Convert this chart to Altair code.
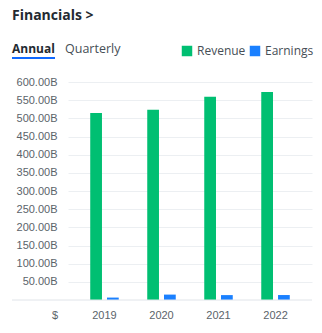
import altair as alt
import pandas as pd

years = ["2019", "2020", "2021", "2022"]
revenue = [514.41, 523.96, 559.15, 572.75]
earnings = [6.67, 14.88, 13.51, 13.67]
series = ["Revenue", "Earnings"]
colors = ["#00bf72", "#1a80ff"]
y_ticks = [50, 100, 150, 200, 250, 300, 350, 400, 450, 500, 550, 600]
title_text = ["Financials >"]
tab_active = ["Annual"]
tab_other = ["Quarterly"]
currency = ["$"]

rows = []
for i, yr in enumerate(years):
    rows.append({"year": yr, "series": "Revenue", "value": revenue[i]})
    rows.append({"year": yr, "series": "Earnings", "value": earnings[i]})
df = pd.DataFrame(rows)

W, H = 244, 218
LEFT, TOP = 68, 82
AXIS_FONT = "Liberation Sans"
AXIS_COLOR = "#5b636a"

bars = alt.Chart(df).mark_bar().encode(
    x=alt.X("year:N", sort=years,
            scale=alt.Scale(paddingInner=0.5, paddingOuter=0.39),
            axis=alt.Axis(title=None, labelAngle=0, ticks=False, domain=False,
                          grid=False, labelPadding=9, labelFont=AXIS_FONT,
                          labelFontSize=11, labelColor=AXIS_COLOR)),
    xOffset=alt.XOffset("series:N", sort=series,
                        scale=alt.Scale(paddingInner=0.3, paddingOuter=0)),
    y=alt.Y("value:Q", scale=alt.Scale(domain=[0, 600], nice=False),
            axis=alt.Axis(title=None, values=y_ticks,
                          labelExpr="format(datum.value, '.2f') + 'B'",
                          ticks=False, domain=False, labelPadding=11,
                          labelFont=AXIS_FONT, labelFontSize=11,
                          labelColor=AXIS_COLOR, gridColor="#eceff2",
                          gridWidth=1)),
    color=alt.Color("series:N",
                    scale=alt.Scale(domain=series, range=colors),
                    legend=alt.Legend(title=None, orient="none",
                                      legendX=181 - LEFT, legendY=45 - TOP,
                                      direction="horizontal",
                                      symbolType="square", symbolSize=110,
                                      symbolStrokeWidth=0, labelFont="Open Sans",
                                      labelFontSize=12, labelColor="#464e56",
                                      labelOffset=4, columnPadding=3,
                                      padding=0)),
)

baseline = alt.Chart(pd.DataFrame({"k": [0]})).mark_rule(
    color="#e0e4e9", strokeWidth=1
).encode(x=alt.value(12 - LEFT), x2=alt.value(W), y=alt.value(H))

title = alt.Chart(pd.DataFrame({"t": title_text})).mark_text(
    align="left", baseline="alphabetic", font="Open Sans", fontSize=14,
    fontWeight="bold", color="#232a31"
).encode(x=alt.value(12 - LEFT), y=alt.value(20 - TOP), text="t:N")

annual = alt.Chart(pd.DataFrame({"t": tab_active})).mark_text(
    align="left", baseline="alphabetic", font="Open Sans", fontSize=12,
    fontWeight="bold", color="#232a31"
).encode(x=alt.value(12 - LEFT), y=alt.value(53 - TOP), text="t:N")

quarterly = alt.Chart(pd.DataFrame({"t": tab_other})).mark_text(
    align="left", baseline="alphabetic", font="Open Sans", fontSize=12.5,
    color="#464e56"
).encode(x=alt.value(65 - LEFT), y=alt.value(53 - TOP), text="t:N")

underline = alt.Chart(pd.DataFrame({"k": [0]})).mark_rule(
    color="#0f69ff", strokeWidth=2
).encode(x=alt.value(12 - LEFT), x2=alt.value(55 - LEFT), y=alt.value(58 - TOP))

dollar = alt.Chart(pd.DataFrame({"t": currency})).mark_text(
    align="center", baseline="alphabetic", font=AXIS_FONT, fontSize=11,
    color=AXIS_COLOR
).encode(x=alt.value(55 - LEFT), y=alt.value(319 - TOP), text="t:N")

chart = alt.layer(bars, baseline, title, annual, quarterly, underline, dollar).properties(
    width=W, height=H,
    autosize=alt.AutoSizeParams(type="none"),
    padding={"left": LEFT, "top": TOP, "right": 322 - LEFT - W, "bottom": 333 - TOP - H},
    background="white",
).configure_view(stroke=None)

chart.save("out.html", embed_options={"renderer": "svg", "actions": False})
